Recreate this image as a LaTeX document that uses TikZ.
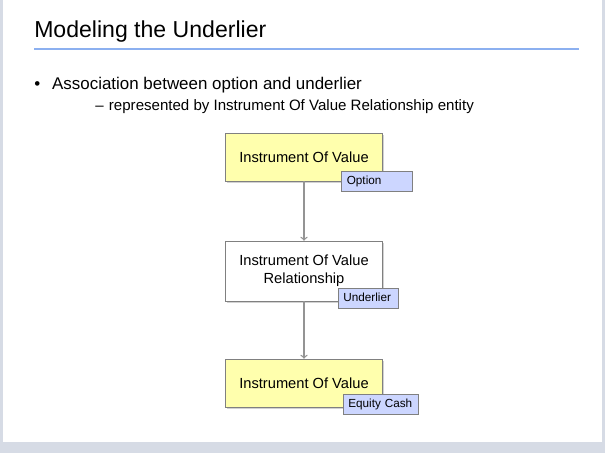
\documentclass[tikz,border=0pt]{standalone}
\usepackage{fontspec}
\setmainfont{Liberation Sans}
\usetikzlibrary{arrows}
\usetikzlibrary{positioning}
\usetikzlibrary{shadows}
\tikzset{entity/.style = {draw=mframe, minimum width=117.75pt, minimum height=36pt,
                          align=center, font=\fontsize{11}{13.5}\selectfont,
                          drop shadow={shadow xshift=1.2pt, shadow yshift=-1.2pt, fill=black!35}},
         role/.style = {draw=mframe, fill=mtag, inner xsep=4pt, inner ysep=3.25pt,
                        text height=6.5pt, text depth=2pt,
                        align=left, font=\fontsize{8.8}{10}\selectfont},
         link/.style = {draw=mlink, line width=1pt, -to}}
\definecolor{mframe}{rgb}{0.5, 0.5, 0.5}
\definecolor{mlink}{rgb}{0.58, 0.58, 0.58}
\definecolor{myellow}{rgb}{1, 1, 0.68}
\definecolor{mtag}{rgb}{0.8, 0.84, 1}
\definecolor{mrule}{rgb}{0.55, 0.69, 0.94}
\definecolor{mslide}{rgb}{0.84, 0.86, 0.9}
\begin{document}
\begin{tikzpicture}[x=0.75pt, y=-0.75pt]
    \useasboundingbox (0, 0) rectangle (605, 453);
    \fill [mslide] (0, 0) rectangle (605, 453);
    \fill [white] (3, 0) rectangle (602, 442);

    \node [anchor=base west, inner sep=0pt, font=\fontsize{17.3}{20}\selectfont] (title) at (34, 38) {Modeling the Underlier};
    \draw [mrule, line width=1.5pt] (34, 49) -- (579, 49);

    \node [anchor=base west, inner sep=0pt, font=\fontsize{12.7}{15}\selectfont] (bullet) at (34, 89) {\textbullet\hspace{9pt}Association between option and underlier};
    \node [anchor=base west, inner sep=0pt, font=\fontsize{11.3}{13}\selectfont] (sub) at (95, 110) {--\hspace{4pt}represented by Instrument Of Value Relationship entity};

    \node [entity, fill=myellow] (option) at (304, 157) {Instrument Of Value};
    \node [entity, fill=white, minimum height=45pt] (relation) at (304, 271) {Instrument Of Value\\Relationship};
    \node [entity, fill=myellow] (underlier) at (304, 383) {Instrument Of Value};

    \node [role, text width=45.25pt] (optiontag) at (377, 181.5) {Option};
    \node [role, text width=37pt] (relationtag) at (368, 298.5) {Underlier};
    \node [role, text width=48.25pt] (underliertag) at (380.5, 404.5) {Equity Cash};

    \draw [link] (option) -- (relation);
    \draw [link] (relation) -- (underlier);
\end{tikzpicture}
\end{document}
